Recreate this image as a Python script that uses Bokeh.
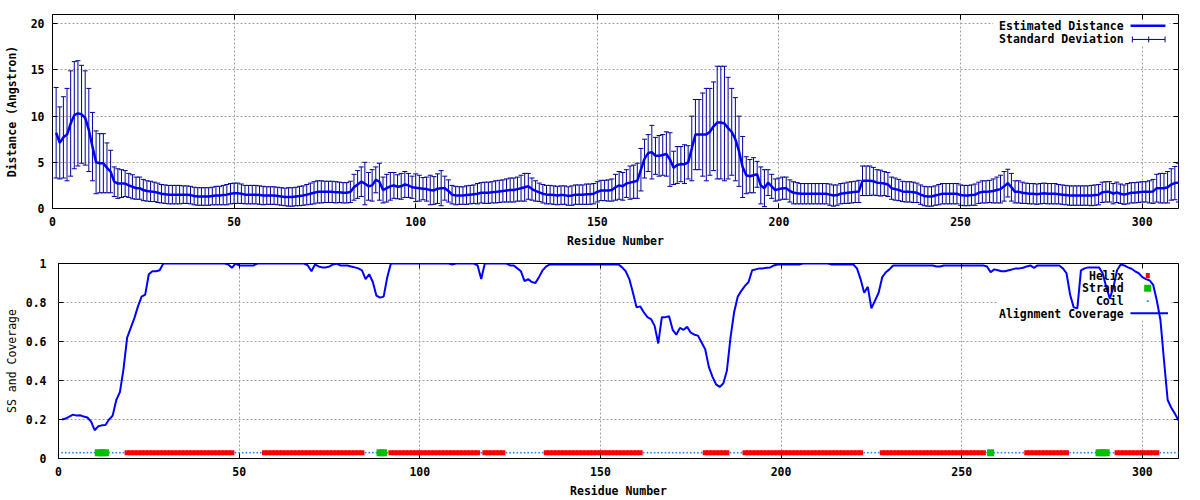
from bokeh.plotting import figure
from bokeh.models import (Range1d, FixedTicker, LinearAxis, Label, Arrow,
                          BoxAnnotation, ColumnDataSource)
from bokeh.embed import file_html
from bokeh.resources import INLINE

# ---------------- data ----------------
residue = list(range(1, 311))

distance = [
    8.2, 7.1, 7.7, 8.0, 9.2, 10.1, 10.3, 10.2, 9.8, 8.5,
    6.7, 5.0, 4.9, 4.9, 4.4, 4.0, 2.9, 2.7, 2.7, 2.7,
    2.5, 2.35, 2.2, 2.2, 2.0, 1.9, 1.85, 1.8, 1.7, 1.6,
    1.55, 1.5, 1.5, 1.5, 1.5, 1.5, 1.5, 1.45, 1.35, 1.3,
    1.3, 1.3, 1.3, 1.35, 1.4, 1.4, 1.45, 1.5, 1.6, 1.65,
    1.65, 1.6, 1.5, 1.5, 1.5, 1.5, 1.45, 1.4, 1.4, 1.4,
    1.4, 1.35, 1.3, 1.25, 1.25, 1.25, 1.3, 1.35, 1.4, 1.5,
    1.6, 1.7, 1.8, 1.8, 1.8, 1.8, 1.8, 1.75, 1.75, 1.7,
    1.7, 1.8, 2.3, 2.6, 2.9, 2.7, 2.4, 2.5, 3.1, 2.9,
    2.0, 2.2, 2.4, 2.5, 2.35, 2.4, 2.6, 2.5, 2.3, 2.25,
    2.2, 2.15, 2.1, 2.0, 1.95, 2.15, 2.2, 2.2, 1.9, 1.5,
    1.4, 1.4, 1.4, 1.45, 1.5, 1.55, 1.6, 1.7, 1.7, 1.7,
    1.75, 1.8, 1.85, 1.9, 1.95, 2.0, 2.0, 2.1, 2.2, 2.3,
    2.4, 2.1, 1.9, 1.75, 1.6, 1.5, 1.5, 1.45, 1.4, 1.45,
    1.45, 1.35, 1.4, 1.5, 1.5, 1.5, 1.55, 1.55, 1.6, 1.8,
    1.95, 1.95, 1.95, 2.0, 2.3, 2.5, 2.4, 2.7, 2.8, 2.9,
    3.0, 4.2, 5.4, 6.0, 6.1, 5.7, 5.7, 5.8, 5.9, 5.3,
    4.4, 4.7, 4.8, 4.8, 5.0, 6.5, 8.0, 8.0, 8.0, 8.0,
    8.3, 8.9, 9.3, 9.3, 9.2, 8.7, 8.3, 7.5, 6.2, 4.5,
    3.6, 3.5, 3.6, 3.7, 2.5, 2.2, 2.8, 2.4, 2.0, 2.1,
    2.2, 2.2, 1.9, 1.7, 1.65, 1.6, 1.6, 1.6, 1.6, 1.6,
    1.6, 1.6, 1.6, 1.5, 1.4, 1.45, 1.6, 1.65, 1.7, 1.75,
    1.8, 1.85, 3.0, 3.0, 3.0, 2.95, 2.8, 2.75, 2.7, 2.6,
    2.2, 2.1, 2.0, 1.85, 1.8, 1.8, 1.75, 1.7, 1.5, 1.35,
    1.3, 1.3, 1.4, 1.5, 1.6, 1.6, 1.6, 1.6, 1.6, 1.45,
    1.4, 1.4, 1.45, 1.5, 1.7, 1.8, 1.8, 1.85, 1.9, 2.0,
    2.1, 2.4, 2.75, 2.3, 1.8, 1.8, 1.7, 1.65, 1.6, 1.6,
    1.55, 1.6, 1.65, 1.6, 1.6, 1.6, 1.55, 1.5, 1.45, 1.4,
    1.4, 1.4, 1.4, 1.4, 1.4, 1.4, 1.45, 1.5, 1.75, 1.8,
    1.8, 1.6, 1.75, 1.6, 1.5, 1.6, 1.7, 1.7, 1.75, 1.8,
    1.8, 1.8, 1.85, 2.2, 2.2, 2.2, 2.3, 2.6, 2.75, 2.8,
]

std_dev = [
    4.9, 3.9, 4.4, 5.0, 5.7, 5.8, 5.7, 5.3, 5.1, 4.5,
    3.7, 3.4, 3.2, 3.2, 2.7, 2.3, 1.6, 1.6, 1.5, 1.4,
    1.3, 1.3, 1.2, 1.2, 1.15, 1.1, 1.1, 1.05, 1.05, 1.0,
    1.0, 1.0, 1.0, 1.0, 1.0, 0.95, 0.95, 0.95, 0.95, 0.95,
    0.95, 0.95, 0.95, 0.95, 1.0, 1.0, 1.05, 1.1, 1.1, 1.1,
    1.1, 1.05, 1.0, 1.0, 1.0, 1.0, 1.0, 1.0, 0.95, 0.95,
    0.95, 0.95, 0.95, 0.95, 1.0, 1.0, 1.0, 1.05, 1.05, 1.1,
    1.15, 1.2, 1.2, 1.2, 1.15, 1.15, 1.15, 1.15, 1.1, 1.1,
    1.1, 1.15, 1.4, 1.5, 1.6, 2.3, 1.5, 1.7, 1.4, 2.0,
    1.4, 1.5, 1.5, 1.4, 1.3, 1.4, 1.4, 1.3, 1.2, 1.5,
    1.4, 1.2, 1.3, 1.6, 1.5, 1.6, 1.9, 1.3, 1.2, 1.0,
    1.0, 0.95, 0.95, 1.0, 1.0, 1.0, 1.1, 1.1, 1.15, 1.15,
    1.15, 1.2, 1.2, 1.2, 1.25, 1.3, 1.3, 1.3, 1.4, 1.5,
    1.4, 1.2, 1.1, 1.0, 1.0, 1.0, 1.0, 1.0, 1.0, 1.0,
    1.0, 1.0, 1.05, 1.05, 1.05, 1.05, 1.1, 1.1, 1.1, 1.1,
    1.1, 1.1, 1.15, 1.2, 1.4, 1.5, 1.5, 1.5, 1.8, 1.8,
    1.9, 2.3, 2.1, 2.0, 2.9, 2.0, 2.2, 2.2, 2.4, 2.9,
    1.8, 2.0, 1.9, 2.1, 1.8, 3.5, 3.8, 3.8, 4.5, 5.0,
    4.7, 4.8, 6.1, 6.1, 6.2, 5.5, 4.7, 4.5, 3.8, 3.3,
    2.0, 1.8, 1.9, 1.4, 2.0, 2.0, 1.4, 1.3, 1.2, 1.2,
    1.2, 1.2, 1.2, 1.2, 1.15, 1.1, 1.1, 1.1, 1.1, 1.1,
    1.1, 1.1, 1.1, 1.15, 1.15, 1.1, 1.1, 1.1, 1.15, 1.15,
    1.15, 1.2, 1.6, 1.6, 1.6, 1.5, 1.4, 1.4, 1.3, 1.3,
    1.2, 1.2, 1.15, 1.1, 1.1, 1.1, 1.1, 1.05, 1.05, 1.05,
    1.05, 1.05, 1.05, 1.1, 1.1, 1.1, 1.1, 1.1, 1.1, 1.1,
    1.1, 1.1, 1.1, 1.15, 1.15, 1.2, 1.2, 1.2, 1.3, 1.4,
    1.5, 1.6, 1.5, 1.5, 1.2, 1.2, 1.15, 1.1, 1.1, 1.1,
    1.1, 1.1, 1.1, 1.1, 1.1, 1.1, 1.05, 1.05, 1.05, 1.05,
    1.05, 1.05, 1.05, 1.05, 1.05, 1.1, 1.1, 1.1, 1.1, 1.1,
    1.1, 1.1, 1.1, 1.05, 1.05, 1.1, 1.1, 1.1, 1.1, 1.1,
    1.1, 1.2, 1.3, 1.5, 1.6, 1.6, 1.7, 1.7, 1.8, 2.1,
]

coverage = [
    0.20, 0.205, 0.215, 0.225, 0.22, 0.222, 0.215, 0.21, 0.19, 0.145,
    0.165, 0.17, 0.172, 0.20, 0.22, 0.30, 0.34, 0.46, 0.62, 0.67,
    0.72, 0.78, 0.83, 0.84, 0.945, 0.96, 0.96, 0.965, 1.0, 1.0,
    1.0, 1.0, 1.0, 1.0, 1.0, 1.0, 1.0, 1.0, 1.0, 1.0,
    1.0, 1.0, 1.0, 1.0, 1.0, 1.0, 0.995, 0.978, 1.0, 0.99,
    0.99, 0.99, 0.99, 0.99, 1.0, 1.0, 1.0, 1.0, 1.0, 1.0,
    1.0, 1.0, 1.0, 1.0, 1.0, 1.0, 1.0, 1.0, 0.99, 0.96,
    0.995, 0.985, 0.98, 0.98, 0.985, 0.995, 1.0, 0.99, 0.99, 0.99,
    0.985, 0.98, 0.975, 0.965, 0.92, 0.945, 0.905, 0.835, 0.825, 0.83,
    0.93, 1.0, 1.0, 1.0, 1.0, 1.0, 1.0, 1.0, 1.0, 1.0,
    1.0, 1.0, 1.0, 1.0, 1.0, 1.0, 1.0, 1.0, 0.995, 1.0,
    1.0, 1.0, 1.0, 1.0, 1.0, 0.99, 0.92, 1.0, 1.0, 1.0,
    1.0, 1.0, 1.0, 1.0, 0.99, 0.99, 0.975, 0.96, 0.91, 0.92,
    0.905, 0.90, 0.93, 0.965, 0.985, 0.995, 0.995, 0.995, 0.995, 0.995,
    0.995, 0.995, 0.995, 0.995, 0.995, 0.995, 0.995, 0.995, 0.995, 0.995,
    0.995, 0.995, 0.995, 0.995, 0.995, 0.98, 0.96, 0.92, 0.85, 0.775,
    0.78, 0.75, 0.725, 0.715, 0.68, 0.59, 0.725, 0.725, 0.73, 0.66,
    0.635, 0.67, 0.66, 0.675, 0.645, 0.635, 0.63, 0.595, 0.56, 0.47,
    0.42, 0.38, 0.367, 0.385, 0.45, 0.62, 0.75, 0.83, 0.86, 0.885,
    0.905, 0.965, 0.97, 0.975, 0.975, 0.978, 0.98, 0.99, 0.995, 0.995,
    0.995, 0.995, 0.995, 0.995, 0.995, 1.0, 1.0, 1.0, 1.0, 1.0,
    1.0, 1.0, 1.0, 0.995, 0.995, 0.995, 0.995, 0.995, 0.995, 0.995,
    0.975, 0.92, 0.85, 0.88, 0.77, 0.81, 0.85, 0.93, 0.955, 0.97,
    0.99, 0.99, 0.99, 0.99, 0.99, 0.99, 0.99, 0.99, 0.99, 0.99,
    0.99, 0.99, 0.985, 0.985, 0.99, 0.99, 0.99, 0.99, 0.99, 0.99,
    0.99, 0.99, 0.99, 0.99, 0.99, 0.99, 0.985, 0.955, 0.97, 0.965,
    0.96, 0.96, 0.965, 0.97, 0.975, 0.975, 0.978, 0.985, 0.99, 0.978,
    0.99, 0.99, 0.99, 0.99, 0.99, 0.99, 0.99, 0.975, 0.95, 0.84,
    0.775, 0.77, 0.965, 0.975, 0.98, 0.98, 0.98, 0.98, 0.95, 0.88,
    0.82, 0.88, 0.965, 0.995, 0.99, 0.98, 0.973, 0.96, 0.95, 0.93,
    0.92, 0.913, 0.89, 0.81, 0.71, 0.5, 0.3, 0.26, 0.23, 0.195,
]

# secondary structure per residue: H helix, E strand, C coil
ss = ("CCCCCCCCCC" "EEE" "CCCCC"
      "HHHHHHHHHHHHHHHHHHHHHHHHHHHHHH" "CCCCCCCC"
      "HHHHHHHHHHHHHHHHHHHHHHHHHHHH" "CCCC" "EE" "C"
      "HHHHHHHHHHHHHHHHHHHHHHHHH" "C" "HHHHHH" "CCCCCCCCCCC"
      "HHHHHHHHHHHHHHHHHHHHHHHHHHH" "CCCCCCCCCCCCCCCCC" "HHHHHHH" "CCCC"
      "HHHHHHHHHHHHHHHHHHHHHHHHHHHHHHHHH" "CCCCC"
      "HHHHHHHHHHHHHHHHHHHHHHHHHHHHH" "C" "E" "CCCCCCCCC"
      "HHHHHHHHHHHH" "CCCCCCCC" "EEE" "CC" "HHHHHHHHHHHH" "CCCCCC")

x_ticks = [0, 50, 100, 150, 200, 250, 300]
dist_ticks = [0, 5, 10, 15, 20]
cov_ticks = [0, 0.2, 0.4, 0.6, 0.8, 1]

# ---------------- styling helpers ----------------
FONT = "DejaVu Sans Mono"
FS = "11.5px"
GRID = "#a0a0a0"


def style_axis(ax, ticks, standoff):
    ax.ticker = FixedTicker(ticks=ticks)
    ax.major_label_text_font = FONT
    ax.major_label_text_font_size = FS
    ax.major_label_text_font_style = "bold"
    ax.major_label_text_color = "black"
    ax.major_label_standoff = standoff
    ax.major_tick_in = 5
    ax.major_tick_out = 0
    ax.major_tick_line_color = "black"
    ax.minor_tick_line_color = None
    ax.axis_line_color = None
    ax.axis_label_text_font = FONT
    ax.axis_label_text_font_size = FS
    ax.axis_label_text_color = "black"


def mirror(p, xt, yt):
    for loc, t in (("right", yt), ("above", xt)):
        ax = LinearAxis(ticker=FixedTicker(ticks=t),
                        major_label_text_font_size="1px",
                        major_label_text_color=None,
                        major_label_standoff=0,
                        major_tick_in=5, major_tick_out=0,
                        major_tick_line_color="black",
                        minor_tick_line_color=None,
                        axis_line_color=None)
        p.add_layout(ax, loc)


def base(p, xt, yt):
    p.outline_line_color = "black"
    p.outline_line_width = 1
    p.outline_line_alpha = 1
    p.background_fill_color = "white"
    p.border_fill_color = "white"
    p.xgrid.ticker = FixedTicker(ticks=xt)
    p.ygrid.ticker = FixedTicker(ticks=yt)
    for g in (p.xgrid, p.ygrid):
        g.grid_line_color = GRID
        g.grid_line_dash = "2 2"
        g.grid_line_width = 1


def label(p, x, y, text):
    p.add_layout(Label(x=x, y=y, text=text, text_align="right",
                       text_baseline="middle", text_font=FONT,
                       text_font_size=FS, text_font_style="bold",
                       text_color="black"))


def seg(p, x0, y0, x1, y1, color, width):
    p.add_layout(Arrow(end=None, x_start=x0, y_start=y0, x_end=x1, y_end=y1,
                       line_color=color, line_width=width))


# ---------------- top chart ----------------
lo = [d - s for d, s in zip(distance, std_dev)]
hi = [d + s for d, s in zip(distance, std_dev)]
src = ColumnDataSource(dict(res=residue, dist=distance, lo=lo, hi=hi))

p1 = figure(width=1200, height=250, x_range=Range1d(0, 310), y_range=Range1d(0, 21),
            output_backend="svg", toolbar_location=None,
            min_border_left=52, min_border_right=22, min_border_top=14, min_border_bottom=42)
base(p1, x_ticks, dist_ticks)
style_axis(p1.xaxis[0], x_ticks, 8)
style_axis(p1.yaxis[0], dist_ticks, 8)
p1.xaxis[0].axis_label = "Residue Number"
p1.xaxis[0].axis_label_text_font_style = "bold"
p1.xaxis[0].axis_label_standoff = 5
p1.yaxis[0].axis_label = "Distance (Angstron)"
p1.yaxis[0].axis_label_text_font_style = "bold"
p1.yaxis[0].axis_label_standoff = 9
mirror(p1, x_ticks, dist_ticks)

# legend background (hides grid only)
p1.add_layout(BoxAnnotation(left=259, right=307.5, bottom=17.6, top=20.7,
                            fill_color="white", fill_alpha=1, line_color=None,
                            level="underlay"))

ERR = "#000099"
p1.segment(x0="res", y0="lo", x1="res", y1="hi", source=src, line_color=ERR, line_width=1)
p1.scatter(x="res", y="lo", source=src, marker="dash", size=5, line_color=ERR, line_width=1)
p1.scatter(x="res", y="hi", source=src, marker="dash", size=5, line_color=ERR, line_width=1)
p1.line(x="res", y="dist", source=src, line_color="#0000ff", line_width=2.5)

label(p1, 294.9, 19.72, "Estimated Distance")
seg(p1, 296.8, 19.78, 306.4, 19.78, "#0000ff", 2.5)
label(p1, 294.9, 18.3, "Standard Deviation")
seg(p1, 297.3, 18.3, 306.3, 18.3, ERR, 1)
for xx in (297.3, 301.8, 306.3):
    seg(p1, xx, 17.98, xx, 18.62, ERR, 1)

# ---------------- bottom chart ----------------
hx = [r for r, c in zip(residue, ss) if c == "H"]
ex = [r for r, c in zip(residue, ss) if c == "E"]
cx = [r for r, c in zip(residue, ss) if c == "C"]
SS_Y = 0.03

p2 = figure(width=1200, height=250, x_range=Range1d(0, 310), y_range=Range1d(0, 1),
            output_backend="svg", toolbar_location=None,
            min_border_left=58, min_border_right=22, min_border_top=13, min_border_bottom=42)
base(p2, x_ticks, cov_ticks)
style_axis(p2.xaxis[0], x_ticks, 8)
style_axis(p2.yaxis[0], cov_ticks, 12)
p2.yaxis[0].major_label_overrides = {0: "0", 1: "1"}
p2.xaxis[0].axis_label = "Residue Number"
p2.xaxis[0].axis_label_text_font_style = "bold"
p2.xaxis[0].axis_label_standoff = 5
p2.yaxis[0].axis_label = "SS and Coverage"
p2.yaxis[0].axis_label_text_font_style = "normal"
p2.yaxis[0].axis_label_standoff = 4
mirror(p2, x_ticks, cov_ticks)

p2.add_layout(BoxAnnotation(left=260, right=308, bottom=0.71, top=0.985,
                            fill_color="white", fill_alpha=1, line_color=None,
                            level="underlay"))

p2.scatter(cx, [SS_Y] * len(cx), marker="circle", size=1.8,
           fill_color="#1e88ff", line_color=None)
p2.scatter(hx, [SS_Y] * len(hx), marker="square", size=5,
           fill_color="#ff0000", line_color=None)
p2.scatter(ex, [SS_Y] * len(ex), marker="square", size=7,
           fill_color="#00c000", line_color=None)
p2.line(residue, coverage, line_color="#0000ff", line_width=2)

label(p2, 294.8, 0.938, "Helix")
p2.add_layout(BoxAnnotation(left=300.95, right=302.05, bottom=0.925, top=0.951,
                            fill_color="#ff0000", fill_alpha=1, line_color=None))
label(p2, 294.8, 0.873, "Strand")
p2.add_layout(BoxAnnotation(left=300.5, right=302.45, bottom=0.855, top=0.891,
                            fill_color="#00c000", fill_alpha=1, line_color=None))
label(p2, 294.8, 0.807, "Coil")
p2.add_layout(BoxAnnotation(left=301.2, right=301.75, bottom=0.802, top=0.812,
                            fill_color="#1e88ff", fill_alpha=1, line_color=None))
label(p2, 294.8, 0.742, "Alignment Coverage")
seg(p2, 296.7, 0.745, 307.1, 0.745, "#0000ff", 2)

# two separate roots stacked vertically, so that each keeps its own borders
open("out.html", "w").write(file_html([p1, p2], INLINE))
